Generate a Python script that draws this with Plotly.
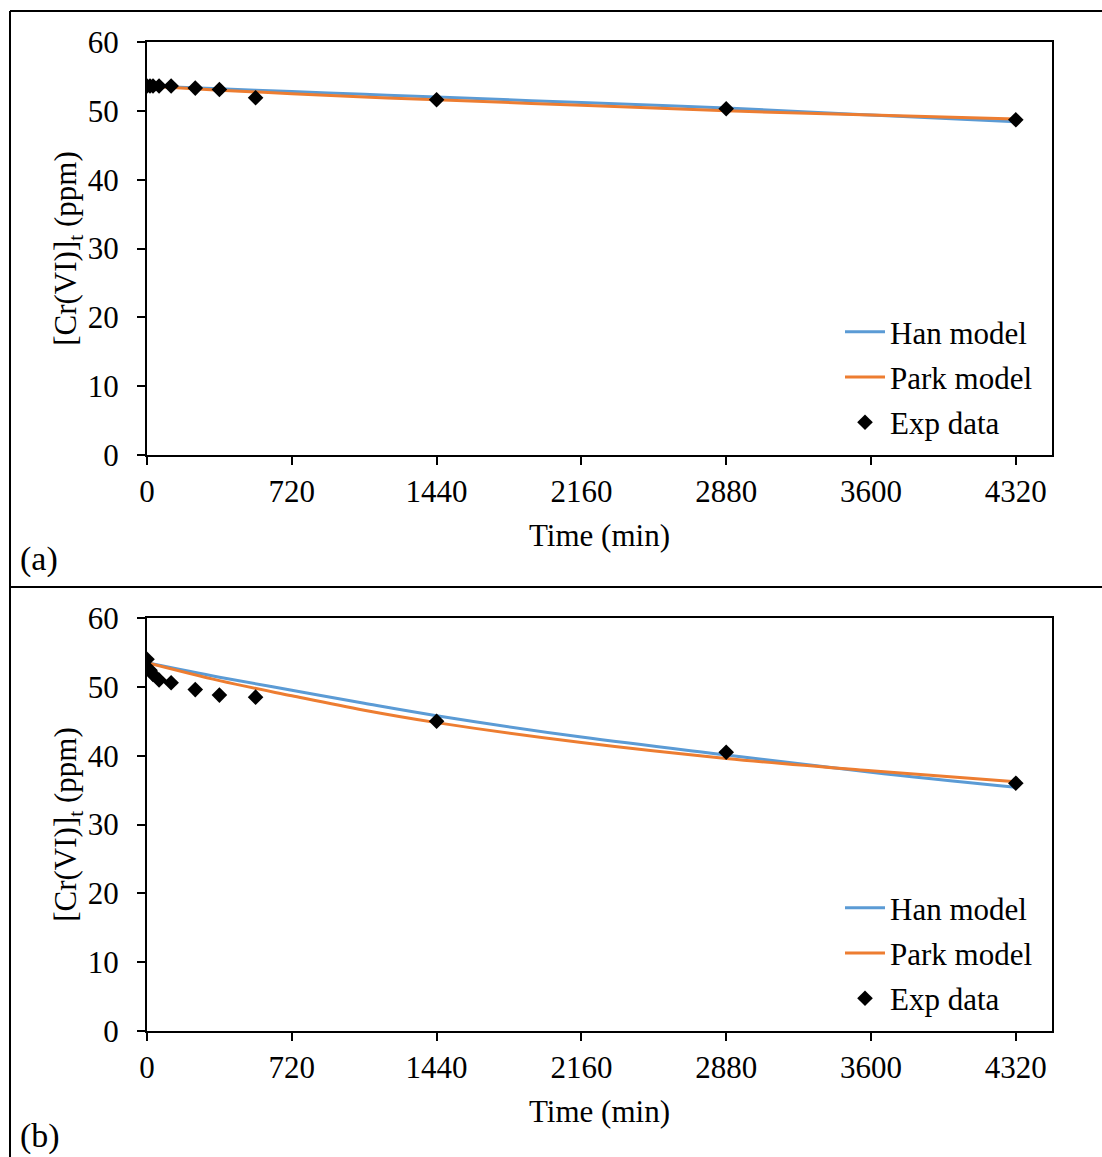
import plotly.graph_objects as go

# Experimental sampling times (min) and measured Cr(VI) concentrations (ppm)
exp_time = [0, 15, 30, 60, 120, 240, 360, 540, 1440, 2880, 4320]
exp_a = [53.6, 53.6, 53.6, 53.6, 53.6, 53.3, 53.1, 51.9, 51.6, 50.3, 48.7]
exp_b = [54.0, 52.4, 51.8, 51.0, 50.6, 49.6, 48.8, 48.5, 45.0, 40.5, 36.0]

# Model curves evaluated on a common time grid (min)
model_time = [0, 360, 720, 1080, 1440, 2160, 2880, 3600, 4320]
han_a = [53.6, 53.2, 52.8, 52.4, 52.0, 51.2, 50.4, 49.4, 48.4]
park_a = [53.6, 53.0, 52.5, 52.0, 51.6, 50.8, 50.0, 49.4, 48.8]
han_b = [53.5, 51.4, 49.5, 47.6, 45.8, 42.7, 40.1, 37.6, 35.4]
park_b = [53.5, 50.9, 48.7, 46.6, 44.8, 41.9, 39.6, 37.8, 36.2]

x_ticks = [0, 720, 1440, 2160, 2880, 3600, 4320]
y_ticks = [0, 10, 20, 30, 40, 50, 60]

W, H = 1102, 1157
ML, MR, MT, MB = 147, 50, 42, 126
PW, PH = W - ML - MR, H - MT - MB
FONT = "Liberation Serif, Times New Roman, serif"
FS = 31
BLUE = "#5B9BD5"
ORANGE = "#ED7D31"


def px_x(x):
    return (x - ML) / PW


def px_y(y):
    return 1 - (y - MT) / PH


fig = go.Figure()

panels = [
    ("x", "y", "legend", han_a, park_a, exp_a),
    ("x2", "y2", "legend2", han_b, park_b, exp_b),
]
for xa, ya, lg, han, park, exp in panels:
    fig.add_trace(go.Scatter(
        x=model_time, y=han, mode="lines", name="Han model",
        line=dict(color=BLUE, width=3, shape="spline"),
        xaxis=xa, yaxis=ya, legend=lg, legendgroup=lg + "han"))
    fig.add_trace(go.Scatter(
        x=model_time, y=park, mode="lines", name="Park model",
        line=dict(color=ORANGE, width=3, shape="spline"),
        xaxis=xa, yaxis=ya, legend=lg, legendgroup=lg + "park"))
    fig.add_trace(go.Scatter(
        x=exp_time, y=exp, mode="markers", name="Exp data",
        marker=dict(symbol="diamond", color="black", size=12),
        xaxis=xa, yaxis=ya, legend=lg, legendgroup=lg + "exp"))

dom_a = [px_y(455), 1.0]
dom_b = [0.0, px_y(618)]

axis_common = dict(
    showline=True, linecolor="black", linewidth=2, mirror=True,
    showgrid=False, zeroline=False, ticks="outside", ticklen=8,
    tickwidth=2, tickcolor="black", automargin=False,
    tickfont=dict(family=FONT, size=FS, color="black"),
)

xaxis_common = dict(axis_common, range=[0, 4500], tickvals=x_ticks,
                    title=dict(text="Time (min)",
                               font=dict(family=FONT, size=FS, color="black"),
                               standoff=16))
yaxis_common = dict(axis_common, range=[0, 60], tickvals=y_ticks,
                    ticklabelstandoff=12,
                    title=dict(text="[Cr(VI)]<sub>t</sub> (ppm)",
                               font=dict(family=FONT, size=FS, color="black"),
                               standoff=0))

legend_common = dict(
    font=dict(family=FONT, size=FS, color="black"),
    bgcolor="rgba(0,0,0,0)", borderwidth=0,
    xanchor="right", yanchor="bottom", x=px_x(1038),
    traceorder="grouped", tracegroupgap=2, itemwidth=40,
)

fig.update_layout(
    width=W, height=H,
    margin=dict(l=ML, r=MR, t=MT, b=MB, autoexpand=False),
    paper_bgcolor="white", plot_bgcolor="white",
    font=dict(family=FONT, size=FS, color="black"),
    xaxis=dict(xaxis_common, domain=[0, 1], anchor="y"),
    yaxis=dict(yaxis_common, domain=dom_a, anchor="x"),
    xaxis2=dict(xaxis_common, domain=[0, 1], anchor="y2"),
    yaxis2=dict(yaxis_common, domain=dom_b, anchor="x2"),
    legend=dict(legend_common, y=px_y(449)),
    legend2=dict(legend_common, y=px_y(1025)),
    showlegend=True,
)

# Panel frames and labels
frame = dict(type="line", xref="paper", yref="paper",
             line=dict(color="black", width=2))
fig.add_shape(frame, x0=px_x(10), x1=px_x(W), y0=px_y(11), y1=px_y(11))
fig.add_shape(frame, x0=px_x(10), x1=px_x(W), y0=px_y(587), y1=px_y(587))
fig.add_shape(frame, x0=px_x(10), x1=px_x(10), y0=px_y(H), y1=px_y(11))

for label, ypx in [("(a)", 559), ("(b)", 1136)]:
    fig.add_annotation(text=label, xref="paper", yref="paper",
                       x=px_x(18), y=px_y(ypx), xanchor="left", yanchor="middle",
                       showarrow=False,
                       font=dict(family=FONT, size=34, color="black"))

fig.write_html("out.html")
